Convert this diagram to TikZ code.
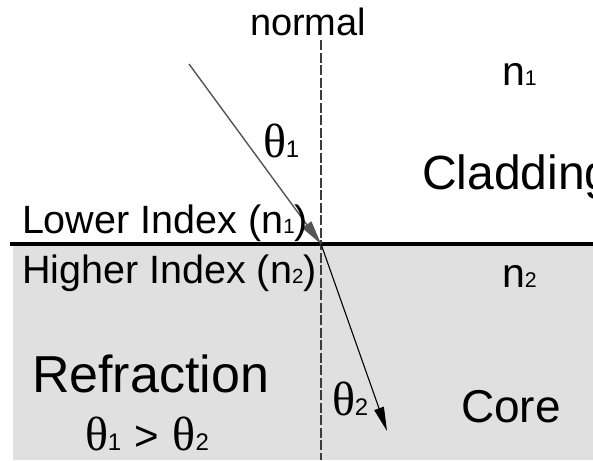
\documentclass[tikz,border=0pt]{standalone}
\usepackage{fontspec}
\setmainfont{Liberation Sans}
\newfontfamily\serifth{Liberation Serif}
\usetikzlibrary{arrows.meta}
\definecolor{coregray}{RGB}{224,224,224}
\definecolor{raygray}{RGB}{85,85,85}
\definecolor{normgray}{RGB}{60,60,60}
\newcommand\fsz[1]{\fontsize{#1}{#1}\selectfont}
\newcommand\lowsub[1]{\scalebox{0.52}{#1}}
\newcommand\thsub[1]{\scalebox{0.5}{#1}}
\newcommand\thsym{{\serifth θ}}
\begin{document}
\begin{tikzpicture}[x=1pt,y=-1pt,
  lbl/.style={anchor=base west, inner sep=0pt, outer sep=0pt},
  rayline/.style={draw=raygray, line width=1.4pt},
  normalline/.style={draw=normgray, line width=1.2pt, dash pattern=on 10pt off 2.5pt},
  interface/.style={draw=black, line width=4pt}]
\useasboundingbox (0,0) rectangle (593,460);
\fill[white] (0,0) rectangle (593,460);
\fill[coregray] (13,244) rectangle (593,460);
% interface
\coordinate (ifl) at (10,244);
\coordinate (ifr) at (593,244);
\draw[interface] (ifl) -- (ifr);
% normal
\coordinate (ntop) at (321,40);
\coordinate (nbot) at (321,460);
\draw[normalline] (ntop) -- (nbot);
% rays
\coordinate (src) at (189,64);
\coordinate (O) at (321,244);
\coordinate (dst) at (387,431);
\draw[rayline, -{Triangle[length=24pt,width=11pt]}] (src) -- (O);
\draw[draw=black, line width=1.1pt, -{Triangle[length=24pt,width=10pt]}] (O) -- (dst);
% labels
\node[lbl] (normal) at (250,35) {\fsz{38}normal};
\node[lbl] (n1) at (502,85) {\fsz{41}n\lowsub{1}};
\node[lbl] (th1) at (263,157) {\fsz{48}\thsym\thsub{1}};
\node[lbl] (clad) at (422,189) {\fsz{48}Cladding};
\node[lbl] (lower) at (22,233) {\fsz{39.5}Lower Index (n\lowsub{1})};
\node[lbl] (higher) at (22,283) {\fsz{39.5}Higher Index (n\lowsub{2})};
\node[lbl] (n2) at (502,287) {\fsz{41}n\lowsub{2}};
\node[lbl] (refr) at (32,392) {\fsz{52}Refraction};
\node[lbl] (th2) at (332,415) {\fsz{48}\thsym\thsub{2}};
\node[lbl] (core) at (461,422) {\fsz{46}Core};
\node[lbl] (cmp) at (85,450) {\fsz{48}\thsym\thsub{1} {\fsz{42}>} \thsym\thsub{2}};
\end{tikzpicture}
\end{document}
